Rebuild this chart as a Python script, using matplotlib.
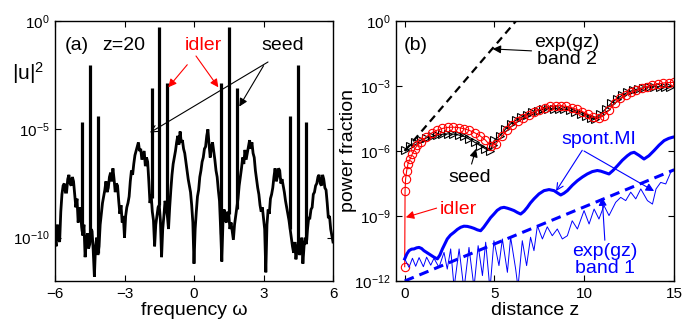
import numpy as np
import matplotlib
matplotlib.use("Agg")
import matplotlib.pyplot as plt
from matplotlib.ticker import NullLocator

plt.rcParams['font.family'] = ['Liberation Sans', 'DejaVu Sans']
plt.rcParams['mathtext.fontset'] = 'custom'
plt.rcParams['mathtext.rm'] = 'Liberation Sans'
plt.rcParams['mathtext.it'] = 'Liberation Sans:italic'

# ---- panel (a): spectrum at z=20, log10|u|^2 read on a 0.05 grid in omega
omega = np.linspace(-6, 6, 241)
spec_log = [
    -10.0, -10.4, -9.4, -10.0, -10.2, -8.8, -8.0, -7.6, -7.5, -7.9,
    -7.9, -7.3, -7.1, -7.5, -7.6, -7.2, -7.4, -8.0, -8.6, -8.2,
    -9.3, -8.6, -8.8, -9.5, -9.9, -9.4, -10.9, -10.2, -9.8, -10.5,
    -10.3, -9.6, -9.7, -10.6, -11.8, -10.4, -10.0, -10.8, -10.4, -9.4,
    -8.9, -8.4, -8.1, -7.8, -7.4, -7.9, -7.7, -7.2, -7.0, -7.4,
    -6.8, -7.3, -7.9, -7.5, -7.6, -8.3, -8.9, -8.5, -9.3, -9.0,
    -10.0, -9.0, -8.6, -8.4, -8.1, -7.4, -6.9, -7.1, -6.6, -6.2,
    -6.0, -5.8, -5.6, -6.0, -5.9, -6.4, -6.2, -6.0, -6.7, -6.3,
    -6.5, -7.4, -8.4, -8.0, -8.8, -9.2, -10.4, -9.4, -9.0, -8.6,
    -8.5, -9.2, -10.9, -9.6, -9.0, -8.3, -8.6, -9.0, -9.6, -8.6,
    -7.8, -7.1, -6.6, -6.3, -6.0, -5.6, -5.3, -5.7, -5.1, -5.6,
    -5.5, -5.9, -6.1, -6.5, -6.9, -7.3, -7.6, -7.9, -8.5, -9.3,
    -11.2,
    -9.6, -8.8, -8.1, -7.8, -7.2, -6.9, -6.5, -6.3, -5.9, -5.8,
    -5.3, -5.0, -5.7, -6.3, -5.8, -5.6, -6.0, -6.4, -6.9, -7.2,
    -7.8, -8.3, -9.6, -11.1, -9.3, -8.7, -9.2, -9.3, -8.8, -8.9,
    -9.6, -9.3, -9.7, -10.1, -9.4, -9.0, -8.6, -8.2, -7.6, -7.2,
    -6.8, -6.3, -6.6, -5.95, -6.4, -6.1, -5.8, -5.5, -5.9, -5.6,
    -6.1, -6.3, -6.9, -7.3, -7.7, -8.0, -8.5, -8.8, -8.6, -9.1,
    -9.6, -11.6, -9.4, -8.7, -8.9, -8.2, -8.0, -7.7, -7.2, -6.8,
    -7.4, -7.2, -6.8, -6.9, -7.5, -7.3, -7.6, -7.9, -8.3, -8.6,
    -8.9, -9.2, -9.6, -10.0, -10.4, -10.7, -10.2, -11.0, -10.5, -10.2,
    -10.8, -10.6, -10.0, -11.2, -10.4, -10.0, -10.3, -9.6, -9.1, -9.1,
    -8.7, -8.6, -8.0, -7.9, -7.6, -7.5, -7.2, -7.1, -7.5, -7.6,
    -7.1, -7.3, -7.7, -7.8, -8.4, -9.1, -9.0, -9.6, -9.9, -10.2,
]
spike_omega = [-4.82, -4.49, -4.14, -1.83, -1.50, -1.16, 1.17, 1.50, 1.84, 4.15, 4.49, 4.82]
spike_log = [-4.65, -2.05, -4.4, -3.1, -0.27, -2.87, -2.87, -0.27, -3.1, -4.4, -2.05, -4.65]

# ---- panel (b): power fraction vs distance z (log10 values)
z_band2 = [0.0, 6.2]
band2_log = [-6.0, 0.0]

z_band1 = [0.0, 15.0]
band1_log = [-12.0, -6.87]

z_seed = [0.0, 0.3, 0.6, 0.9, 1.2, 1.5, 1.8, 2.1, 2.4, 2.7, 3.0, 3.3, 3.6, 3.9, 4.2, 4.5,
          4.75, 4.9, 5.0, 5.3, 5.6, 5.9, 6.2, 6.5, 6.8, 7.1, 7.4, 7.7, 8.0, 8.3, 8.6, 8.9,
          9.2, 9.5, 9.8, 10.1, 10.4, 10.6, 10.9, 11.2, 11.5, 11.8, 12.1, 12.4, 12.7, 13.0,
          13.3, 13.6, 13.9, 14.2, 14.5, 14.8]
seed_log = [-5.95, -5.75, -5.6, -5.5, -5.4, -5.33, -5.27, -5.23, -5.21, -5.22, -5.26, -5.33,
            -5.45, -5.6, -5.75, -5.9, -5.98, -5.7, -5.5, -5.3, -5.0, -4.75, -4.58, -4.44,
            -4.33, -4.22, -4.14, -4.08, -4.05, -4.04, -4.05, -4.08, -4.13, -4.2, -4.29,
            -4.38, -4.48, -4.53, -4.3, -4.05, -3.8, -3.6, -3.43, -3.3, -3.2, -3.13, -3.08,
            -3.05, -3.03, -3.03, -3.04, -3.06]

z_idler = [0.0, 0.02, 0.05, 0.11, 0.18, 0.3, 0.42, 0.56, 0.7, 0.9, 1.2, 1.5, 1.8, 2.1,
           2.4, 2.7, 3.0, 3.3, 3.6, 3.9, 4.2, 4.5, 4.8, 5.1, 5.4, 5.7, 6.0, 6.3, 6.6, 6.9,
           7.2, 7.5, 7.8, 8.1, 8.4, 8.7, 9.0, 9.3, 9.6, 9.9, 10.2, 10.5, 10.8, 11.1, 11.4,
           11.7, 12.0, 12.3, 12.6, 12.9, 13.2, 13.5, 13.8, 14.1, 14.4, 14.7, 15.0]
idler_log = [-11.34, -7.83, -7.29, -6.91, -6.6, -6.37, -6.14, -5.91, -5.72, -5.58, -5.35,
             -5.17, -5.04, -4.96, -4.91, -4.9, -4.92, -4.97, -5.05, -5.16, -5.3, -5.5,
             -5.78, -5.66, -5.33, -5.05, -4.82, -4.62, -4.46, -4.33, -4.2, -4.09, -4.01,
             -3.94, -3.91, -3.91, -3.94, -4.0, -4.08, -4.18, -4.3, -4.43, -4.49, -4.37,
             -4.1, -3.8, -3.57, -3.42, -3.3, -3.2, -3.11, -3.03, -2.96, -2.9, -2.86,
             -2.84, -2.83]

z_mi = [0.0, 0.12, 0.24, 0.38, 0.52, 0.66, 0.8, 0.94, 1.07, 1.35, 1.63, 1.82, 1.96, 2.1,
        2.37, 2.55, 2.75, 2.93, 3.12, 3.3, 3.49, 3.68, 3.86, 4.05, 4.23, 4.4, 4.6, 4.78,
        4.97, 5.15, 5.35, 5.53, 5.72, 5.9, 6.09, 6.28, 6.46, 6.65, 6.83, 7.0, 7.2, 7.48,
        7.76, 8.04, 8.32, 8.5, 8.69, 8.87, 9.06, 9.34, 9.62, 9.9, 10.17, 10.45, 10.73,
        10.92, 11.1, 11.38, 11.6, 11.85, 12.12, 12.4, 12.6, 12.78, 13.05, 13.33, 13.6,
        13.89, 14.17, 14.45, 14.7, 14.9, 15.0]
mi_log = [-10.98, -10.75, -10.6, -10.53, -10.52, -10.47, -10.45, -10.5, -10.6, -10.75,
          -10.9, -10.98, -10.8, -10.52, -10.06, -9.88, -9.75, -9.62, -9.52, -9.47, -9.48,
          -9.52, -9.57, -9.64, -9.68, -9.52, -9.29, -9.08, -8.91, -8.74, -8.63, -8.6,
          -8.64, -8.69, -8.75, -8.84, -8.91, -8.78, -8.6, -8.4, -8.21, -7.98, -7.83,
          -7.78, -7.83, -7.93, -8.03, -7.95, -7.83, -7.58, -7.37, -7.2, -7.06, -6.95,
          -6.9, -6.93, -6.98, -7.06, -6.9, -6.68, -6.43, -6.22, -6.1, -6.06, -6.2, -6.37,
          -6.22, -5.98, -5.73, -5.52, -5.42, -5.37, -5.35]

z_band1_mi = [0.0, 0.24, 0.43, 0.61, 0.8, 1.04, 1.22, 1.45, 1.63, 1.91, 2.19, 2.37, 2.56,
              2.75, 3.03, 3.3, 3.58, 3.86, 4.09, 4.33, 4.51, 4.75, 4.97, 5.25, 5.44, 5.72,
              5.9, 6.18, 6.31, 6.55, 6.79, 7.01, 7.2, 7.39, 7.67, 7.94, 8.22, 8.5, 8.78,
              9.06, 9.33, 9.62, 9.99, 10.27, 10.55, 10.82, 11.1, 11.38, 11.75, 12.03,
              12.31, 12.59, 12.87, 13.15, 13.52, 13.8, 14.0, 14.26, 14.54, 14.82, 15.0]
band1_mi_log = [-10.98, -11.37, -10.95, -11.32, -10.92, -11.34, -10.9, -11.27, -10.95,
                -11.37, -10.68, -11.45, -10.52, -12.3, -10.52, -12.4, -10.45, -12.3,
                -10.37, -11.75, -10.21, -12.4, -10.14, -11.29, -10.06, -11.6, -9.98,
                -11.45, -12.3, -10.14, -11.29, -9.98, -10.6, -9.45, -10.06, -9.5, -9.91,
                -9.6, -10.06, -9.91, -9.22, -9.6, -8.75, -9.37, -8.68, -9.14, -8.52,
                -8.98, -8.37, -8.14, -8.29, -7.9, -8.21, -7.75, -8.29, -8.45, -7.75,
                -7.45, -7.52, -6.98, -6.83]

W, H = 699, 329
fig = plt.figure(figsize=(W / 100, H / 100), dpi=100)


def fpx(x, y):
    # figure pixel -> figure fraction
    return (x / W, 1 - y / H)


ax1 = fig.add_axes([55 / W, 1 - 281 / H, 278 / W, 260 / H])
ax2 = fig.add_axes([396 / W, 1 - 281 / H, 278 / W, 260 / H])

# ---- panel (a)
bg = 10 ** np.array(spec_log)
ax1.semilogy(omega, bg, color='k', lw=2.0, solid_joinstyle='miter')
ax1.vlines(spike_omega, np.interp(spike_omega, omega, bg), 10 ** np.array(spike_log),
           color='k', lw=2.3)
ax1.set_xlim(-6, 6)
ax1.set_ylim(1e-12, 1e0)
ax1.set_xticks([-6, -3, 0, 3, 6])
ax1.set_xticklabels(['\u22126', '\u22123', '0', '3', '6'])
ax1.set_yticks([1e0, 1e-5, 1e-10])
ax1.set_yticklabels([r'$10^{0}$', r'$10^{-5}$', r'$10^{-10}$'])
ax1.set_xlabel('frequency \u03c9', fontsize=14, labelpad=1)
fig.text(*fpx(28, 73), '|u|$^2$', fontsize=15, ha='center', va='center')

ax1.text(*fpx(65, 45), '(a)', transform=fig.transFigure, fontsize=14, va='center')
ax1.text(*fpx(102, 45), 'z=20', transform=fig.transFigure, fontsize=14, va='center')

ax1.annotate('idler', xy=(-1.11, 10 ** -3.06), xytext=fpx(203, 46), textcoords='figure fraction',
             color='r', fontsize=14, ha='center', va='center', annotation_clip=False,
             arrowprops=dict(arrowstyle='-|>', color='r', lw=0.8, shrinkA=7, shrinkB=0,
                             mutation_scale=12))
ax1.annotate('', xy=(1.05, 10 ** -3.06), xytext=fpx(196, 56), textcoords='figure fraction',
             arrowprops=dict(arrowstyle='-|>', color='r', lw=0.8, shrinkA=0, shrinkB=0,
                             mutation_scale=12))
ax1.annotate('', xy=(-1.9, 10 ** -5.15), xytext=fpx(268, 62), textcoords='figure fraction',
             arrowprops=dict(arrowstyle='->', color='k', lw=0.8, shrinkA=0, shrinkB=0,
                             mutation_scale=12))
ax1.annotate('seed', xy=(1.955, 10 ** -3.95), xytext=fpx(283, 46), textcoords='figure fraction',
             color='k', fontsize=14, ha='center', va='center',
             arrowprops=dict(arrowstyle='-|>', color='k', lw=0.8, shrinkA=7, shrinkB=0,
                             relpos=(0.2, 0.0), mutation_scale=12))

# ---- panel (b)
ax2.semilogy(z_band2, 10 ** np.array(band2_log), color='k', lw=1.6, ls=(0, (3.5, 2.3)))
ax2.semilogy(z_seed, 10 ** np.array(seed_log), color='k', lw=0.8, marker='>', ms=6,
             mfc='none', mew=0.8)
ax2.semilogy(z_idler, 10 ** np.array(idler_log), color='r', lw=0.8, marker='o', ms=6,
             mfc='none', mew=0.8)
ax2.semilogy(z_mi, 10 ** np.array(mi_log), color='b', lw=2.2)
ax2.semilogy(z_band1_mi, 10 ** np.array(band1_mi_log), color='b', lw=0.7)
ax2.semilogy(z_band1, 10 ** np.array(band1_log), color='b', lw=2.2, ls=(0, (3.2, 2.0)))

ax2.set_xlim(-0.485, 15)
ax2.set_ylim(1e-12, 1e0)
ax2.set_xticks([0, 5, 10, 15])
ax2.set_yticks([1e0, 1e-3, 1e-6, 1e-9, 1e-12])
ax2.set_yticklabels([r'$10^{0}$', r'$10^{-3}$', r'$10^{-6}$', r'$10^{-9}$', r'$10^{-12}$'])
ax2.set_xlabel('distance z', fontsize=14, labelpad=1)
ax2.set_ylabel('power fraction', fontsize=14)
ax2.yaxis.set_label_coords(-0.14, 0.5)

ax2.text(*fpx(404, 45), '(b)', transform=fig.transFigure, fontsize=14, va='center')
ax2.annotate('exp(gz)\nband 2', xy=(4.9, 10 ** -1.29), xytext=fpx(567, 51),
             textcoords='figure fraction', fontsize=14, ha='center', va='center',
             linespacing=1.0,
             arrowprops=dict(arrowstyle='-|>', color='k', lw=0.8, shrinkA=0, shrinkB=0,
                             relpos=(0.0, 0.5), mutation_scale=12))
ax2.annotate('seed', xy=(3.97, 10 ** -5.9), xytext=fpx(470, 178),
             textcoords='figure fraction', fontsize=14, ha='center', va='center',
             arrowprops=dict(arrowstyle='-|>', color='k', lw=0.8, shrinkA=2, shrinkB=0,
                             relpos=(0.5, 1.0), mutation_scale=12))
ax2.annotate('idler', xy=(0.06, 10 ** -9.06), xytext=fpx(458, 209),
             textcoords='figure fraction', fontsize=14, ha='center', va='center', color='r',
             arrowprops=dict(arrowstyle='-|>', color='r', lw=0.8, shrinkA=0, shrinkB=0,
                             relpos=(0.0, 0.6), mutation_scale=12))
ax2.annotate('spont.MI', xy=(8.43, 10 ** -7.85), xytext=fpx(599, 139),
             textcoords='figure fraction', fontsize=14, ha='center', va='center', color='b',
             arrowprops=dict(arrowstyle='->', color='b', lw=0.8, shrinkA=0, shrinkB=0,
                             relpos=(0.3, 0.0), mutation_scale=12))
ax2.annotate('', xy=(13.89, 10 ** -7.85), xytext=fpx(584, 151),
             textcoords='figure fraction',
             arrowprops=dict(arrowstyle='-|>', color='b', lw=0.8, shrinkA=0, shrinkB=0,
                             mutation_scale=12))
ax2.annotate('exp(gz)\nband 1', xy=(11.0, 10 ** -8.14), xytext=fpx(605, 260),
             textcoords='figure fraction', fontsize=14, ha='center', va='center', color='b',
             linespacing=1.0,
             arrowprops=dict(arrowstyle='-|>', color='b', lw=0.8, shrinkA=0, shrinkB=0,
                             relpos=(0.5, 1.0), mutation_scale=12))

for ax in (ax1, ax2):
    ax.yaxis.set_minor_locator(NullLocator())
    ax.xaxis.set_minor_locator(NullLocator())
    ax.tick_params(which='both', direction='in', top=True, right=True, length=4,
                   width=0.8, labelsize=11, pad=4)
    for s in ax.spines.values():
        s.set_linewidth(1.0)

fig.savefig('out.png', dpi=100)
